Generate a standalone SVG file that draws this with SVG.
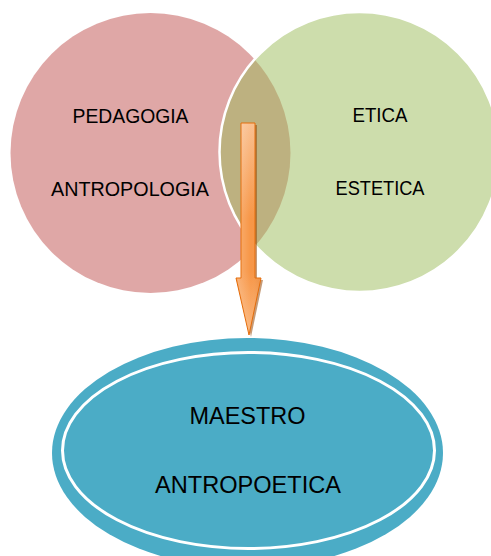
<svg xmlns="http://www.w3.org/2000/svg" width="491" height="556" viewBox="0 0 491 556">
<style>
text{font-family:"Liberation Sans",Arial,sans-serif;fill:#000;text-anchor:middle}
.t1{font-size:20px}
.t2{font-size:23.5px}
</style>
<defs>
<linearGradient id="ag" x1="0" y1="0" x2="0" y2="1">
<stop offset="0" stop-color="#FAC090"/>
<stop offset="0.45" stop-color="#F79646"/>
<stop offset="0.7" stop-color="#F79646"/>
<stop offset="1" stop-color="#FBB880"/>
</linearGradient>
<linearGradient id="ah" x1="0" y1="0" x2="1" y2="0">
<stop offset="0" stop-color="#ffffff" stop-opacity="0.25"/>
<stop offset="0.6" stop-color="#ffffff" stop-opacity="0"/>
<stop offset="1" stop-color="#000000" stop-opacity="0.05"/>
</linearGradient>
</defs>
<g id="pedagogia">
<circle cx="150.5" cy="153" r="140" fill="#C0504D" fill-opacity="0.5"/>
<text class="t1" x="130.5" y="122.7" textLength="116" lengthAdjust="spacingAndGlyphs">PEDAGOGIA</text>
<text class="t1" x="130" y="195.5" textLength="158" lengthAdjust="spacingAndGlyphs">ANTROPOLOGIA</text>
</g>
<g id="etica">
<circle cx="359.5" cy="152" r="140" fill="#9BBB59" fill-opacity="0.5" stroke="#fff" stroke-width="2.5"/>
<text class="t1" x="380" y="122.3" textLength="55" lengthAdjust="spacingAndGlyphs">ETICA</text>
<text class="t1" x="380" y="195.3" textLength="89" lengthAdjust="spacingAndGlyphs">ESTETICA</text>
</g>
<g id="connectors">
<path d="M243 125 H257 V280 H263 L251 337 L238 280 H243 Z" fill="#984807" fill-opacity="0.55"/>
<path d="M241 123 H255 V278 H261 L249 335 L236 278 H241 Z" fill="url(#ag)" stroke="#E46C0A" stroke-width="1"/>
<path d="M241.5 123.5 H254.5 V278.5 H260 L249 333 L237 278.5 H241.5 Z" fill="url(#ah)"/>
</g>
<g id="maestro">
<ellipse cx="247.5" cy="453" rx="195.5" ry="115" fill="#4BACC6"/>
<ellipse cx="248.5" cy="450.5" rx="186" ry="98" fill="#4BACC6" stroke="#fff" stroke-width="3"/>
<text class="t2" x="247.5" y="424.3" textLength="116" lengthAdjust="spacingAndGlyphs">MAESTRO</text>
<text class="t2" x="248" y="493.3" textLength="186" lengthAdjust="spacingAndGlyphs">ANTROPOETICA</text>
</g>
</svg>
